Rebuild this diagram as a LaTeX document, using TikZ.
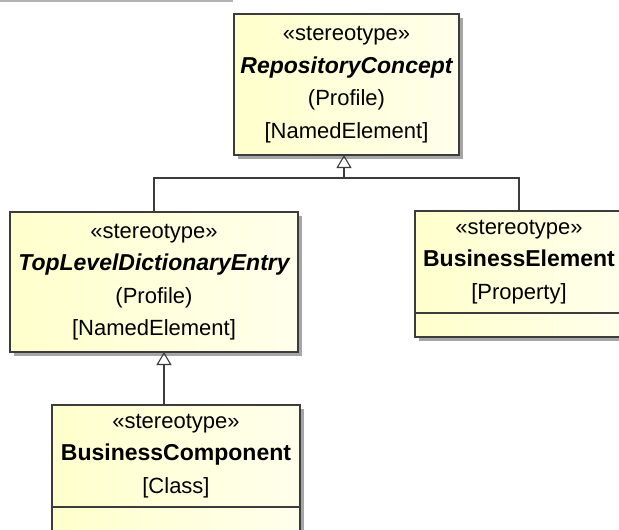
\documentclass[tikz,border=0pt]{standalone}
\usepackage{fontspec}
\setmainfont{Liberation Sans}
\usepackage{tikz}
\usetikzlibrary{shapes,shadows,arrows.meta,calc}

\definecolor{boxfillL}{RGB}{255,255,204}
\definecolor{boxfillR}{RGB}{255,255,236}
\definecolor{umlline}{RGB}{60,60,60}

\tikzset{
  umlbox/.style={draw=umlline,line width=1.1pt,left color=boxfillL,right color=boxfillR,
    inner sep=0pt,outer sep=0pt,align=center,
    font=\fontsize{22}{32.5}\selectfont,
    drop shadow={shadow xshift=4pt,shadow yshift=-4pt,fill=black!35,opacity=1}},
  umlpart/.style={draw=umlline,line width=1.1pt,left color=boxfillL,right color=boxfillR,
    inner sep=0pt,outer sep=0pt,
    drop shadow={shadow xshift=4pt,shadow yshift=-4pt,fill=black!35,opacity=1}},
  gen/.style={draw=umlline,line width=1.2pt,-{Triangle[open,length=13pt,width=15pt,line width=1.1pt]}},
  link/.style={draw=umlline,line width=1.2pt}
}
\newcommand{\stname}[1]{{\fontsize{23}{32.5}\selectfont\bfseries #1}}

\begin{document}
\begin{tikzpicture}[x=1pt,y=-1pt]
\useasboundingbox (0,0) rectangle (619,530);
\fill[white] (0,0) rectangle (619,530);
\draw[black!30,line width=1.5pt] (0,0.75)--(233,0.75);

% classes
\node[umlbox,minimum width=225pt,minimum height=141pt] (repo) at (346.5,84.5)
  {«stereotype»\\\stname{\itshape RepositoryConcept}\\(Profile)\\{[NamedElement]}};
\node[umlbox,minimum width=288pt,minimum height=140pt] (tlde) at (154,282)
  {«stereotype»\\\stname{\itshape TopLevelDictionaryEntry}\\(Profile)\\{[NamedElement]}};
\node[umlbox,minimum width=208pt,minimum height=102pt] (belem) at (519,262)
  {«stereotype»\\\stname{BusinessElement}\\{[Property]}};
\node[umlpart,minimum width=208pt,minimum height=24pt,anchor=north] (belemattr) at (belem.south) {};
\node[umlbox,minimum width=248pt,minimum height=102pt] (bcomp) at (176,456)
  {«stereotype»\\\stname{BusinessComponent}\\{[Class]}};
\node[umlpart,minimum width=248pt,minimum height=40pt,anchor=north] (bcompattr) at (bcomp.south) {};

% generalisations
\coordinate (hub) at (344,178);
\draw[link] (tlde.north) |- (hub);
\draw[link] (belem.north) |- (hub);
\draw[gen] (hub) -- (hub |- repo.south);
\draw[gen] ([xshift=-12pt]bcomp.north) -- ([xshift=-12pt]bcomp.north |- tlde.south);
\end{tikzpicture}
\end{document}
